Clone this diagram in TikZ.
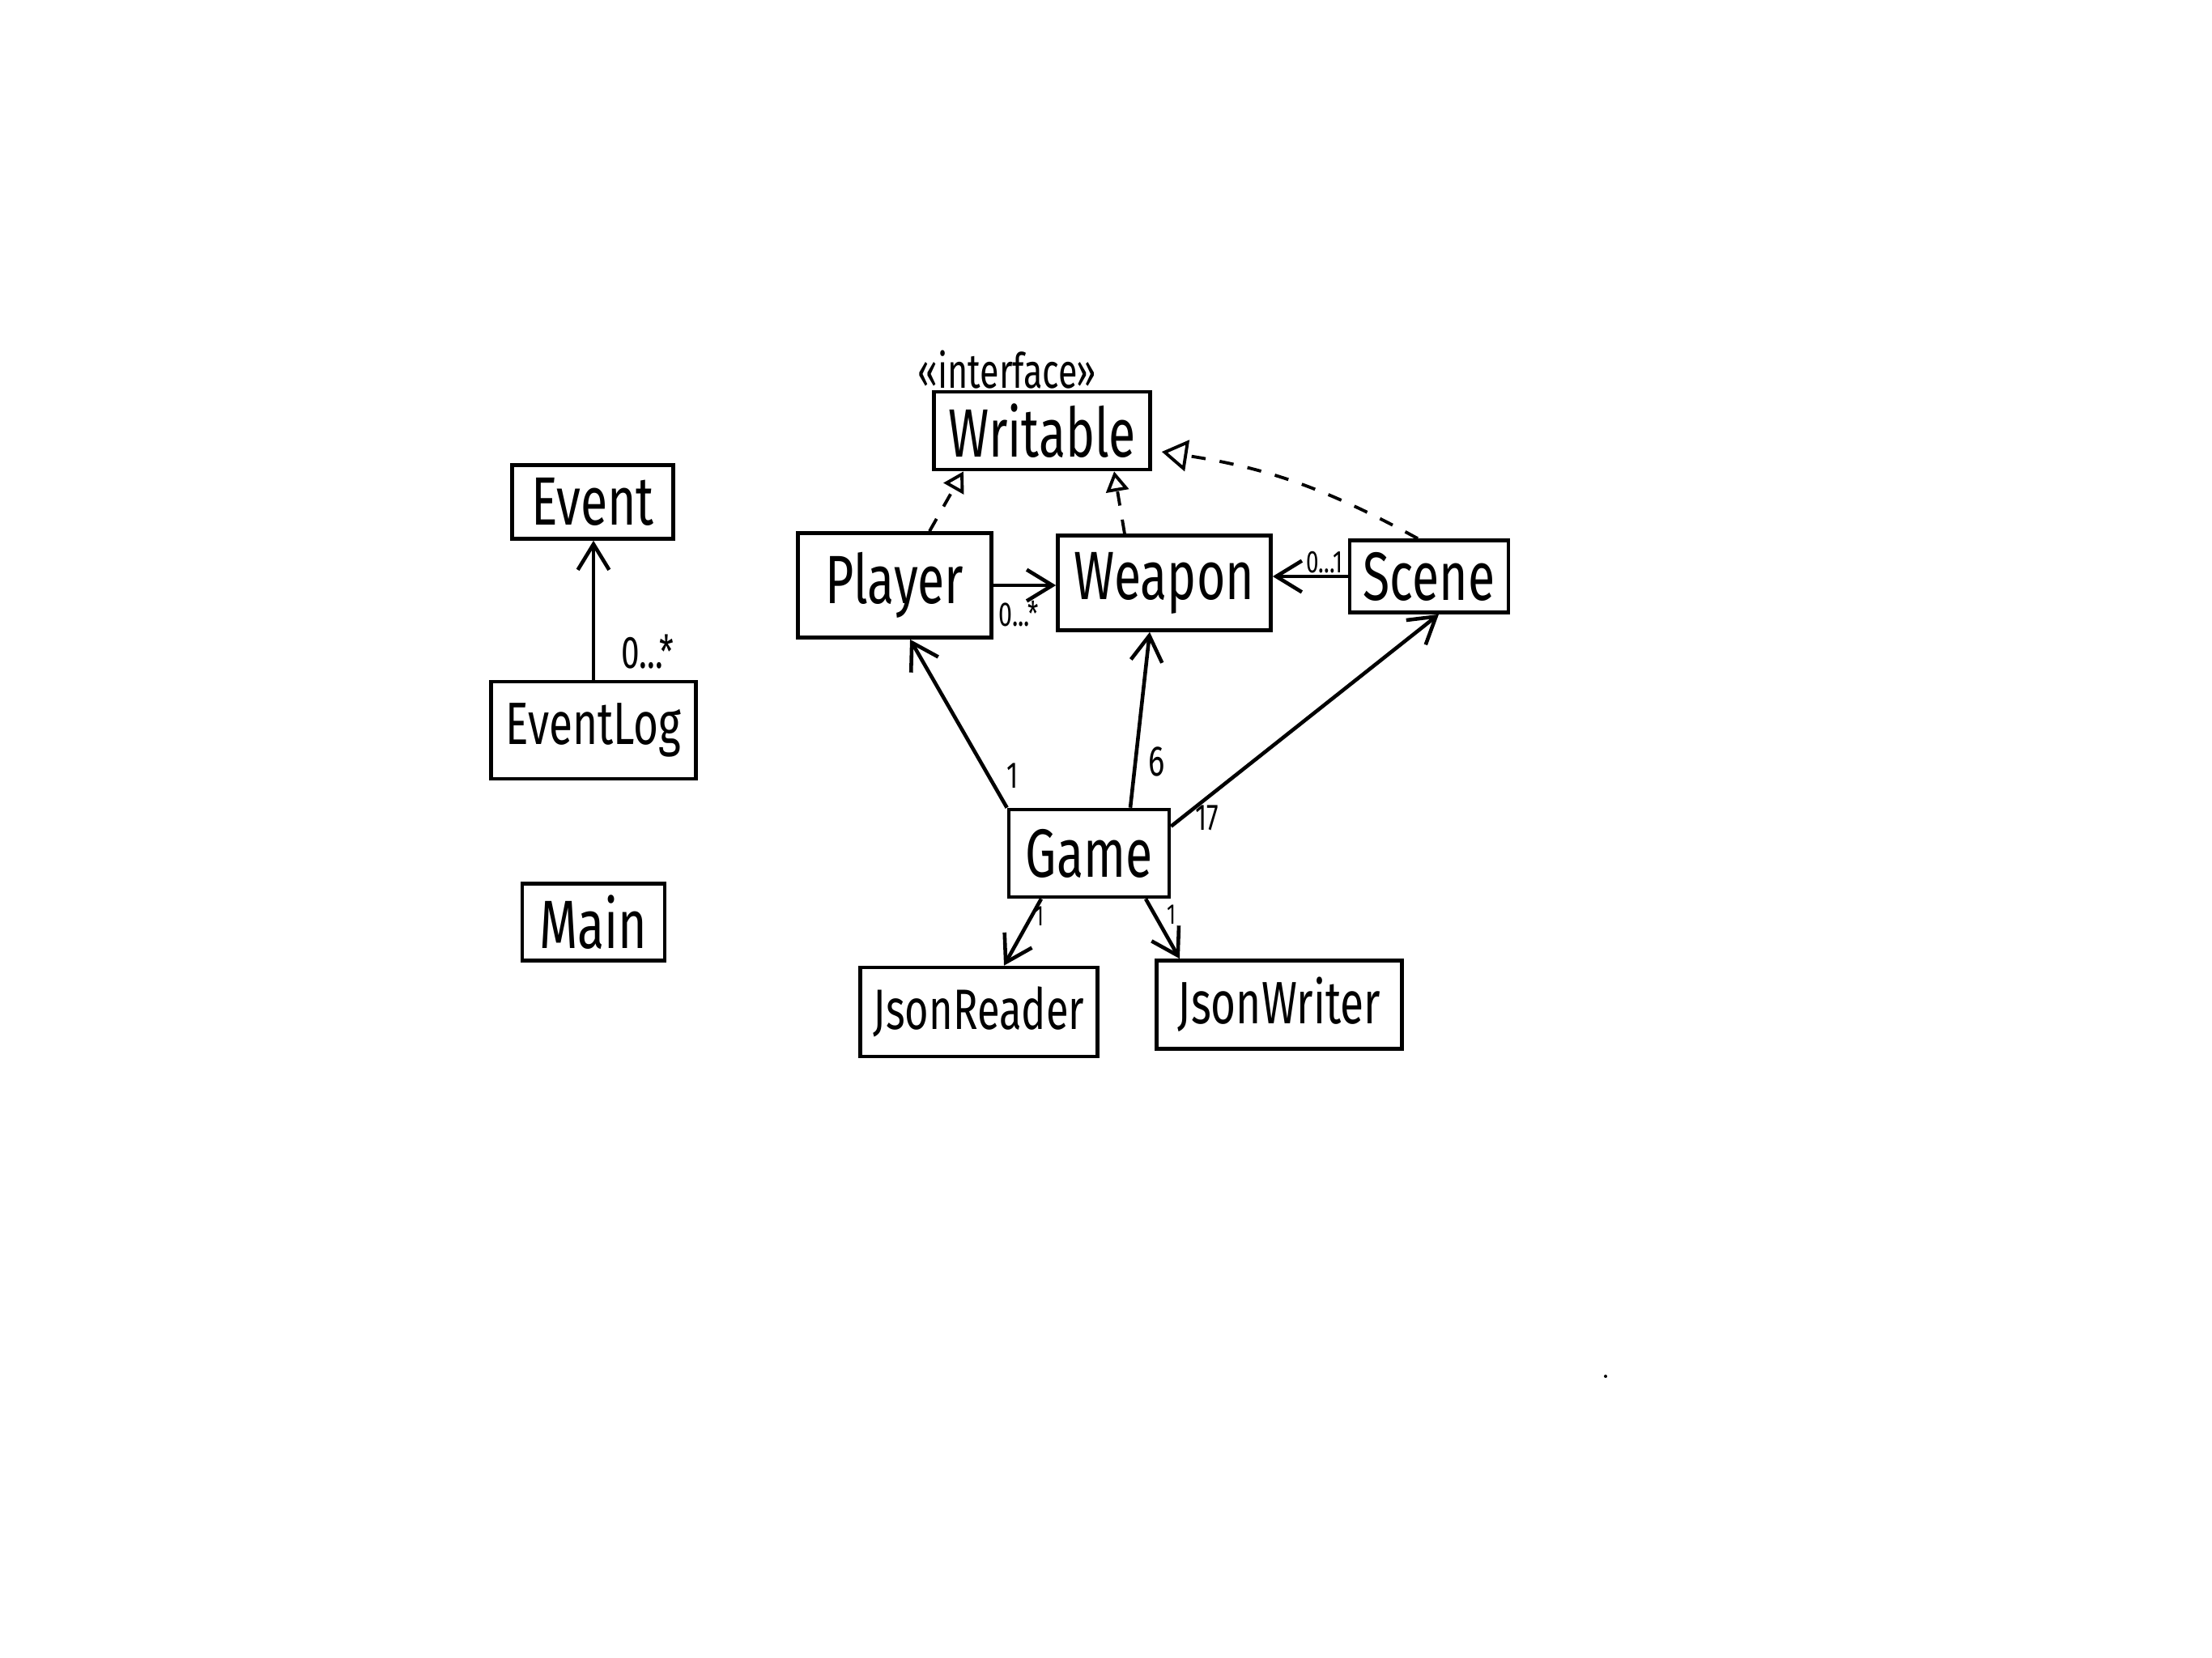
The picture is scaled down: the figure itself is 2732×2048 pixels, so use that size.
\documentclass[tikz,border=0pt]{standalone}
\usepackage{fontspec}
\setmainfont{Fira Sans}[FakeStretch=0.72]
\usetikzlibrary{arrows.meta,calc}
\tikzset{
  cls/.style={draw, line width=1.3pt, inner sep=0pt, font=\fontsize{24}{28}\selectfont},
  mult/.style={inner sep=0pt, font=\fontsize{#1}{#1}\selectfont},
  assoc/.style={line width=1.3pt, -{Straight Barb[length=9pt,width=11pt,line width=1.3pt]}},
  real/.style={line width=1.1pt, dash pattern=on 5pt off 5pt, -{Triangle[open,length=7pt,width=8pt,line width=1.1pt]}},
  bigreal/.style={real, -{Triangle[open,length=9pt,width=11pt,line width=1.1pt]}},
}
\begin{document}
\begin{tikzpicture}[x=0.01cm,y=-0.01cm]
\useasboundingbox[fill=white] (0,0) rectangle (2732,2048);

% classes
\node[mult=17] (stereo) at (1244,457) {«interface»};
\node[cls, minimum width=2.67cm, minimum height=0.96cm] (writable) at (1287,532) {Writable};
\node[cls, minimum width=1.99cm, minimum height=0.91cm] (event) at (732,620) {Event};
\node[cls, minimum width=2.39cm, minimum height=1.29cm] (player) at (1105,723) {Player};
\node[cls, minimum width=2.63cm, minimum height=1.17cm] (weapon) at (1438,720) {Weapon};
\node[cls, minimum width=1.96cm, minimum height=0.89cm] (scene) at (1765,712) {Scene};
\node[cls, minimum width=2.53cm, minimum height=1.20cm, font=\fontsize{21}{25}\selectfont] (eventlog) at (733,902) {EventLog};
\node[cls, minimum width=1.98cm, minimum height=1.08cm] (game) at (1345,1054) {Game};
\node[cls, minimum width=1.76cm, minimum height=0.95cm] (main) at (733,1139) {Main};
\node[cls, minimum width=2.93cm, minimum height=1.10cm, font=\fontsize{20}{24}\selectfont] (jsonreader) at (1209,1250) {JsonReader};
\node[cls, minimum width=3.03cm, minimum height=1.09cm, font=\fontsize{21}{25}\selectfont] (jsonwriter) at (1580,1241) {JsonWriter};

% associations
\draw[assoc] (eventlog.north) -- (eventlog.north |- event.south);
\draw[assoc] (player.east) -- (player.east -| weapon.west);
\draw[assoc] (scene.west) -- (scene.west -| weapon.east);
\draw[assoc] (game.north west) -- ([xshift=0.19cm]player.south);
\draw[assoc] ([xshift=0.51cm]game.north) -- ([xshift=-0.18cm]weapon.south);
\draw[assoc] ([yshift=-0.23cm]game.north east) -- ([xshift=0.12cm]scene.south);
\draw[assoc] ([xshift=-0.59cm]game.south) -- ([xshift=0.31cm]jsonreader.north);
\draw[assoc] ([xshift=0.70cm]game.south) -- ([xshift=-1.23cm]jsonwriter.north);

% realizations
\draw[real] ([xshift=0.43cm]player.north) -- ([xshift=-0.97cm]writable.south);
\draw[real] ([xshift=-0.49cm]weapon.north) -- ([xshift=0.89cm]writable.south);
\draw[bigreal] ([xshift=-0.14cm]scene.north) to[bend right=10] ([xshift=0.12cm,yshift=-0.26cm]writable.east);

% multiplicities
\node[mult=16] (m1) at (800,805) {0...*};
\node[mult=12] (m2) at (1258,758) {0...*};
\node[mult=11] (m3) at (1636,695) {0...1};
\node[mult=13] (m4) at (1251,958) {1};
\node[mult=15] (m5) at (1429,941) {6};
\node[mult=13] (m6) at (1491,1010) {17};
\node[mult=10] (m7) at (1284,1132) {1};
\node[mult=10] (m8) at (1447,1130) {1};

% stray dot
\fill (1983,1700) circle (2);
\end{tikzpicture}
\end{document}
